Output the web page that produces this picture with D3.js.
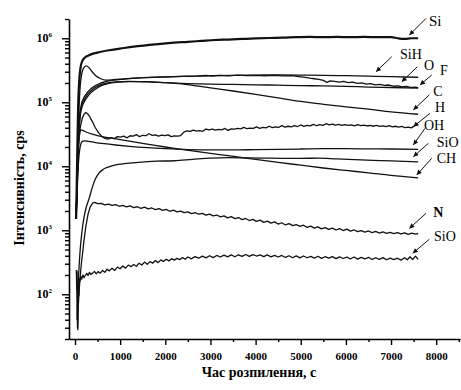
<!DOCTYPE html>
<html>
<head>
<meta charset="utf-8">
<script src="https://d3js.org/d3.v7.min.js"></script>
<style>
body { margin: 0; background: #fff; }
#c { width: 461px; height: 390px; }
text { font-family: "Liberation Serif", "Times New Roman", serif; fill: #000; }
</style>
</head>
<body>
<div id="c"></div>
<script>
"use strict";

// sputtering time (s) -> intensity (cps)
const siData = [[25,1.5e3],[40,6e3],[55,2.5e4],[70,9e4],[90,2e5],[120,3.4e5],[160,4.4e5],[220,5e5],[300,5.4e5],[400,5.75e5],[550,6.1e5],[750,6.5e5],[1000,6.9e5],[1300,7.4e5],[1600,7.8e5],[1900,8.2e5],[2200,8.55e5],[2500,8.8e5],[2800,9.1e5],[3100,9.4e5],[3400,9.55e5],[3700,9.75e5],[4000,9.95e5],[4300,1.01e6],[4600,1.02e6],[4900,1.04e6],[5200,1.05e6],[5500,1.04e6],[5800,1.05e6],[6100,1.04e6],[6400,1.05e6],[6700,1.04e6],[7000,1.04e6],[7150,1.0e6],[7300,9.8e5],[7450,1.0e6],[7600,1.0e6]]

const sihData = [[25,1.8e3],[45,6e3],[65,2.5e4],[85,7e4],[110,1.6e5],[150,2.8e5],[200,3.5e5],[250,3.7e5],[310,3.45e5],[380,3e5],[460,2.6e5],[560,2.35e5],[680,2.22e5],[850,2.25e5],[1100,2.32e5],[1500,2.42e5],[2000,2.5e5],[2500,2.55e5],[3000,2.6e5],[3500,2.64e5],[4000,2.66e5],[4500,2.68e5],[5000,2.66e5],[5500,2.64e5],[6000,2.6e5],[6500,2.56e5],[7000,2.52e5],[7600,2.46e5]]

const oData = [[25,1.7e3],[45,5e3],[65,1.6e4],[85,4e4],[110,7e4],[150,1e5],[200,1.2e5],[270,1.42e5],[350,1.62e5],[450,1.82e5],[570,2e5],[720,2.14e5],[900,2.24e5],[1200,2.34e5],[1500,2.42e5],[1800,2.47e5],[2100,2.5e5],[2400,2.54e5],[2700,2.57e5],[2900,2.62e5],[3050,2.56e5],[3200,2.63e5],[3400,2.58e5],[3600,2.65e5],[3800,2.6e5],[4000,2.64e5],[4200,2.59e5],[4400,2.63e5],[4600,2.58e5],[4800,2.6e5],[4950,2.52e5],[5100,2.44e5],[5200,2.38e5],[5300,2.33e5],[5400,2.28e5],[5500,2.2e5],[5580,2.05e5],[5650,2.16e5],[5750,2.12e5],[5850,2.06e5],[5950,2.12e5],[6050,2.02e5],[6150,2.06e5],[6250,1.97e5],[6350,2.01e5],[6450,1.92e5],[6550,1.96e5],[6650,1.87e5],[6750,1.91e5],[6850,1.83e5],[6950,1.86e5],[7050,1.78e5],[7150,1.81e5],[7250,1.74e5],[7350,1.77e5],[7450,1.7e5],[7550,1.73e5],[7600,1.68e5]]

const fData = [[25,1.6e3],[45,4.5e3],[65,1.4e4],[85,3.5e4],[110,6.3e4],[150,9e4],[200,1.08e5],[270,1.3e5],[350,1.5e5],[450,1.7e5],[570,1.88e5],[720,2.0e5],[900,2.08e5],[1200,2.12e5],[1600,2.08e5],[2000,2.02e5],[2500,1.96e5],[3000,1.92e5],[3500,1.9e5],[4000,1.87e5],[4500,1.85e5],[5000,1.82e5],[5500,1.8e5],[6000,1.77e5],[6500,1.73e5],[7000,1.7e5],[7600,1.66e5]]

const cData = [[25,1.5e3],[45,4e3],[65,1.2e4],[85,3e4],[110,5.6e4],[150,8.2e4],[200,1.0e5],[270,1.2e5],[350,1.4e5],[450,1.6e5],[570,1.8e5],[720,1.95e5],[900,2.05e5],[1200,2.1e5],[1600,2.1e5],[2000,2.02e5],[2300,1.95e5],[2700,1.8e5],[3000,1.68e5],[3500,1.5e5],[4000,1.33e5],[4500,1.17e5],[5000,1.03e5],[5500,9.3e4],[6000,8.5e4],[6500,7.8e4],[7000,7.1e4],[7600,6.5e4]]

const hData = [[25,1.6e3],[45,4.5e3],[65,1.3e4],[90,2.8e4],[120,4.2e4],[160,5.6e4],[200,6.5e4],[240,6.9e4],[280,6.6e4],[330,5.9e4],[390,4.9e4],[450,4.0e4],[520,3.35e4],[590,2.95e4],[660,2.72e4],[730,2.65e4],[800,2.8e4],[870,2.7e4],[940,2.9e4],[1010,2.85e4],[1080,2.95e4],[1150,2.78e4],[1220,3.0e4],[1290,2.96e4],[1360,3.12e4],[1430,2.9e4],[1500,3.05e4],[1570,3.0e4],[1640,3.22e4],[1710,3.04e4],[1780,3.1e4],[1850,2.95e4],[1920,3.06e4],[1990,3.0e4],[2060,3.1e4],[2130,2.9e4],[2200,2.98e4],[2270,2.95e4],[2340,3.02e4],[2410,3.42e4],[2480,3.58e4],[2550,3.5e4],[2620,3.68e4],[2690,3.55e4],[2760,3.6e4],[2830,3.52e4],[2900,3.82e4],[2970,3.7e4],[3040,3.8e4],[3110,3.66e4],[3180,3.76e4],[3250,3.7e4],[3320,3.9e4],[3390,3.64e4],[3460,3.85e4],[3530,3.8e4],[3600,3.92e4],[3670,3.84e4],[3740,4.06e4],[3810,3.86e4],[3880,3.95e4],[3950,3.9e4],[4020,4.12e4],[4090,3.92e4],[4160,4.05e4],[4230,3.98e4],[4300,4.22e4],[4370,4.02e4],[4440,4.14e4],[4510,4.04e4],[4580,4.32e4],[4650,4.1e4],[4720,4.22e4],[4790,4.14e4],[4860,4.3e4],[4930,4.18e4],[5000,4.42e4],[5070,4.2e4],[5140,4.36e4],[5210,4.28e4],[5280,4.52e4],[5350,4.3e4],[5420,4.46e4],[5490,4.36e4],[5560,4.62e4],[5630,4.42e4],[5700,4.55e4],[5770,4.4e4],[5840,4.5e4],[5910,4.34e4],[5980,4.46e4],[6050,4.36e4],[6120,4.42e4],[6190,4.28e4],[6260,4.46e4],[6330,4.3e4],[6400,4.38e4],[6470,4.26e4],[6540,4.34e4],[6610,4.22e4],[6680,4.36e4],[6750,4.2e4],[6820,4.28e4],[6890,4.16e4],[6960,4.3e4],[7030,4.12e4],[7100,4.22e4],[7170,4.1e4],[7240,4.2e4],[7310,4.0e4],[7380,4.1e4],[7450,3.98e4],[7520,4.3e4],[7600,4.6e4]]

const ohData = [[25,1.5e3],[45,3.5e3],[65,8e3],[90,1.5e4],[120,2.1e4],[160,2.45e4],[210,2.5e4],[300,2.45e4],[450,2.35e4],[650,2.25e4],[900,2.15e4],[1200,2.05e4],[1600,1.95e4],[2000,1.88e4],[2500,1.82e4],[3000,1.8e4],[3500,1.8e4],[4000,1.82e4],[4500,1.84e4],[5000,1.86e4],[5500,1.88e4],[6000,1.88e4],[6500,1.87e4],[7000,1.86e4],[7600,1.84e4]]

const sioData = [[45,40],[60,90],[80,200],[110,450],[150,900],[200,1.6e3],[250,2.3e3],[310,3.1e3],[380,4.6e3],[450,6.3e3],[530,7.8e3],[620,8.9e3],[750,9.8e3],[900,1.05e4],[1100,1.1e4],[1400,1.15e4],[1800,1.2e4],[2200,1.22e4],[2600,1.28e4],[3000,1.34e4],[3400,1.36e4],[3800,1.35e4],[4200,1.34e4],[4600,1.33e4],[5000,1.33e4],[5400,1.34e4],[5800,1.3e4],[6200,1.27e4],[6600,1.24e4],[7000,1.21e4],[7600,1.17e4]]

const chData = [[25,1.6e3],[40,4e3],[60,1.2e4],[80,2.4e4],[105,3.3e4],[135,3.7e4],[180,3.6e4],[260,3.4e4],[400,3.15e4],[600,2.9e4],[800,2.75e4],[1000,2.6e4],[1300,2.4e4],[1600,2.22e4],[2000,2.0e4],[2400,1.82e4],[2800,1.66e4],[3200,1.52e4],[3600,1.4e4],[4000,1.28e4],[4500,1.15e4],[5000,1.04e4],[5500,9.4e3],[6000,8.6e3],[6500,7.9e3],[7000,7.2e3],[7600,6.6e3]]

const nData = [[35,220],[45,90],[55,30],[65,45],[75,70],[90,110],[110,170],[140,300],[170,450],[200,700],[240,1.15e3],[290,1.8e3],[340,2.35e3],[390,2.65e3],[440,2.72e3],[500,2.6e3],[580,2.64e3],[660,2.5e3],[740,2.57e3],[820,2.44e3],[900,2.52e3],[980,2.37e3],[1060,2.45e3],[1140,2.32e3],[1220,2.4e3],[1300,2.26e3],[1380,2.33e3],[1460,2.2e3],[1540,2.3e3],[1620,2.16e3],[1700,2.23e3],[1780,2.1e3],[1860,2.18e3],[1940,2.04e3],[2020,2.12e3],[2100,1.98e3],[2180,2.06e3],[2260,1.94e3],[2340,1.99e3],[2420,1.88e3],[2500,1.94e3],[2580,1.82e3],[2660,1.89e3],[2740,1.78e3],[2820,1.84e3],[2900,1.72e3],[2980,1.79e3],[3060,1.68e3],[3140,1.73e3],[3220,1.62e3],[3300,1.68e3],[3380,1.56e3],[3460,1.63e3],[3540,1.52e3],[3620,1.58e3],[3700,1.47e3],[3780,1.53e3],[3860,1.42e3],[3940,1.48e3],[4020,1.38e3],[4100,1.44e3],[4180,1.33e3],[4260,1.39e3],[4340,1.29e3],[4420,1.35e3],[4500,1.25e3],[4580,1.31e3],[4660,1.21e3],[4740,1.27e3],[4820,1.18e3],[4900,1.23e3],[4980,1.15e3],[5060,1.2e3],[5140,1.11e3],[5220,1.16e3],[5300,1.08e3],[5380,1.13e3],[5460,1.05e3],[5540,1.1e3],[5620,1.03e3],[5700,1.08e3],[5780,1.01e3],[5860,1.06e3],[5940,990],[6020,1.04e3],[6100,970],[6180,1.01e3],[6260,950],[6340,990],[6420,935],[6500,975],[6580,920],[6660,960],[6740,905],[6820,945],[6900,895],[6980,930],[7060,885],[7140,920],[7220,875],[7300,910],[7380,865],[7460,900],[7540,870],[7600,890]]

const sio2Data = [[30,240],[38,120],[46,230],[54,60],[62,28],[70,70],[78,150],[86,95],[95,175],[110,160],[130,190],[150,172],[175,200],[200,182],[230,198],[260,212],[290,196],[320,220],[350,204],[390,214],[430,228],[470,208],[510,226],[560,214],[610,236],[660,220],[710,246],[760,232],[820,256],[880,236],[940,266],[1000,250],[1060,276],[1120,256],[1180,286],[1240,270],[1300,292],[1360,274],[1420,306],[1480,286],[1540,318],[1600,294],[1660,324],[1720,306],[1780,336],[1840,312],[1900,344],[1960,326],[2020,352],[2080,332],[2140,360],[2200,342],[2260,364],[2320,348],[2380,374],[2440,352],[2500,382],[2580,358],[2660,388],[2740,366],[2820,394],[2900,370],[2980,400],[3060,374],[3140,404],[3220,382],[3300,408],[3380,384],[3460,412],[3540,386],[3620,414],[3700,392],[3780,418],[3860,390],[3940,416],[4020,396],[4100,412],[4180,388],[4260,412],[4340,384],[4420,404],[4500,382],[4580,404],[4660,376],[4740,400],[4820,372],[4900,398],[4980,370],[5060,396],[5140,372],[5220,390],[5300,366],[5380,392],[5460,364],[5540,386],[5620,366],[5700,388],[5780,360],[5860,384],[5940,362],[6020,380],[6100,356],[6180,382],[6260,354],[6340,376],[6420,356],[6500,378],[6580,350],[6660,372],[6740,352],[6820,374],[6900,346],[6980,368],[7060,348],[7140,366],[7220,342],[7300,372],[7360,346],[7420,386],[7480,350],[7540,394],[7600,350]]

const seriesNames = ["Si", "SiH", "O", "F", "C", "H", "OH", "SiO", "CH", "N", "SiO"]
const seriesData = [siData, sihData, oData, fData, cData, hData, ohData, sioData, chData, nData, sio2Data]
const noisy = ["O", "H", "N"]

// where each arrow points: [time, cps]
const labelTips = [[7404,1.12e6],[6667,3.0e5],[7236,2.09e5],[7641,1.86e5],[7493,7.6e4],[7493,4.15e4],[7493,2.15e4],[7493,1.41e4],[7568,7.3e3],[7404,1.07e3],[7480,437]]

const xTicks = [0, 1000, 2000, 3000, 4000, 5000, 6000, 7000, 8000]
const xMinorTicks = [500, 1500, 2500, 3500, 4500, 5500, 6500, 7500, 8500]
const yTicks = [1e2, 1e3, 1e4, 1e5, 1e6]
const yTickExp = ["2", "3", "4", "5", "6"]

let svg
let xScale, yScale

window.onload = function() {
    createChart()
    drawSeries()
    drawLabels()
}

function createChart() {
    svg = d3.select('#c')
        .append('svg')
            .attr('width', 461)
            .attr('height', 390)

    xScale = d3.scaleLinear()
        .domain([-133, 8527])
        .range([69, 460])
    yScale = d3.scaleLog()
        .domain([20, 2e6])
        .range([339, 19])

    let xAx = svg.append('g')
        .attr('transform', 'translate(0,339)')
        .call(d3.axisBottom(xScale)
            .tickValues(xTicks).tickSize(6).tickSizeOuter(0).tickPadding(7)
            .tickFormat(d3.format('d')))
    xAx.attr('font-family', '"Liberation Serif", serif')
        .attr('font-size', 11)
        .attr('font-weight', 'bold')
    svg.append('g')
        .attr('transform', 'translate(0,339)')
        .call(d3.axisBottom(xScale).tickValues(xMinorTicks).tickSize(3).tickFormat(''))
        .select('.domain').remove()

    const isMajor = d => Math.abs(Math.log10(d) - Math.round(Math.log10(d))) < 1e-6
    svg.append('g')
        .attr('transform', 'translate(69,0)')
        .call(d3.axisLeft(yScale).tickValues(yTicks).tickSize(7).tickSizeOuter(0).tickFormat(''))
    svg.append('g')
        .attr('transform', 'translate(69,0)')
        .call(d3.axisLeft(yScale).tickValues(yScale.ticks().filter(d => !isMajor(d)))
            .tickSize(4).tickFormat(''))
        .select('.domain').remove()

    svg.selectAll('.domain').attr('stroke-width', 1.6)
    svg.selectAll('.tick line').attr('stroke-width', 1.4)

    yTicks.forEach((v, i) => {
        let t = svg.append('text')
            .attr('x', 52)
            .attr('y', yScale(v) + 4)
            .attr('text-anchor', 'end')
            .attr('font-weight', 'bold')
            .attr('font-size', 12)
        t.append('tspan').text('10')
        t.append('tspan').text(yTickExp[i]).attr('dy', -5).attr('font-size', 7)
    })

    svg.append('text')
        .text('Час розпилення, с')
        .attr('x', 259).attr('y', 377)
        .attr('text-anchor', 'middle')
        .attr('font-weight', 'bold')
        .attr('font-size', 14)

    svg.append('text')
        .text('Інтенсивність, cps')
        .attr('transform', 'translate(24,188) rotate(-90)')
        .attr('text-anchor', 'middle')
        .attr('font-weight', 'bold')
        .attr('font-size', 14)
}

function drawSeries() {
    let g = svg.append('g')
    seriesData.forEach((data, i) => {
        let name = seriesNames[i]
        let line = d3.line()
            .x(d => xScale(d[0]))
            .y(d => yScale(d[1]))
        if(noisy.indexOf(name) < 0 && i != 10) line.curve(d3.curveMonotoneX)
        g.append('path')
            .datum(data)
            .attr('fill', 'none')
            .attr('stroke', '#111')
            .attr('stroke-width', name == 'Si' ? 2.2 : 1.3)
            .attr('stroke-linejoin', 'round')
            .attr('d', line)
    })
}

function drawLabels() {
    svg.append('defs').append('marker')
        .attr('id', 'head')
        .attr('viewBox', '0 0 10 10')
        .attr('refX', 10).attr('refY', 5)
        .attr('markerWidth', 6).attr('markerHeight', 5)
        .attr('markerUnits', 'userSpaceOnUse')
        .attr('orient', 'auto')
        .append('path')
            .attr('d', 'M0,0 L10,5 L0,10 z')
            .attr('fill', '#111')

    // tail and text offsets from the arrow tip, px
    const tails = [[16.7,-16.7],[15.7,-15],[15.6,-15],[11.7,-10],[16,-15],[16.7,-13.4],[11.7,-16.7],[15,-13.4],[15,-16.7],[16.7,-15],[16.6,-14]]
    const texts = [[19.7,-9],[24,-13.2],[22.3,-12.2],[20,-10],[20,-13.5],[21.7,-14.4],[10.7,-14.5],[23.4,-10.2],[20,-12],[24,-11.8],[21.3,-11.8]]

    labelTips.forEach((tip, i) => {
        let x = xScale(tip[0]), y = yScale(tip[1])
        svg.append('line')
            .attr('x1', x + tails[i][0]).attr('y1', y + tails[i][1])
            .attr('x2', x).attr('y2', y)
            .attr('stroke', '#111')
            .attr('stroke-width', 1)
            .attr('marker-end', 'url(#head)')
        svg.append('text')
            .text(seriesNames[i])
            .attr('x', x + texts[i][0])
            .attr('y', y + texts[i][1])
            .attr('font-size', seriesNames[i] == 'Si' ? 15 : 14)
            .attr('font-weight', seriesNames[i] == 'N' ? 'bold' : 'normal')
    })
}
</script>
</body>
</html>
